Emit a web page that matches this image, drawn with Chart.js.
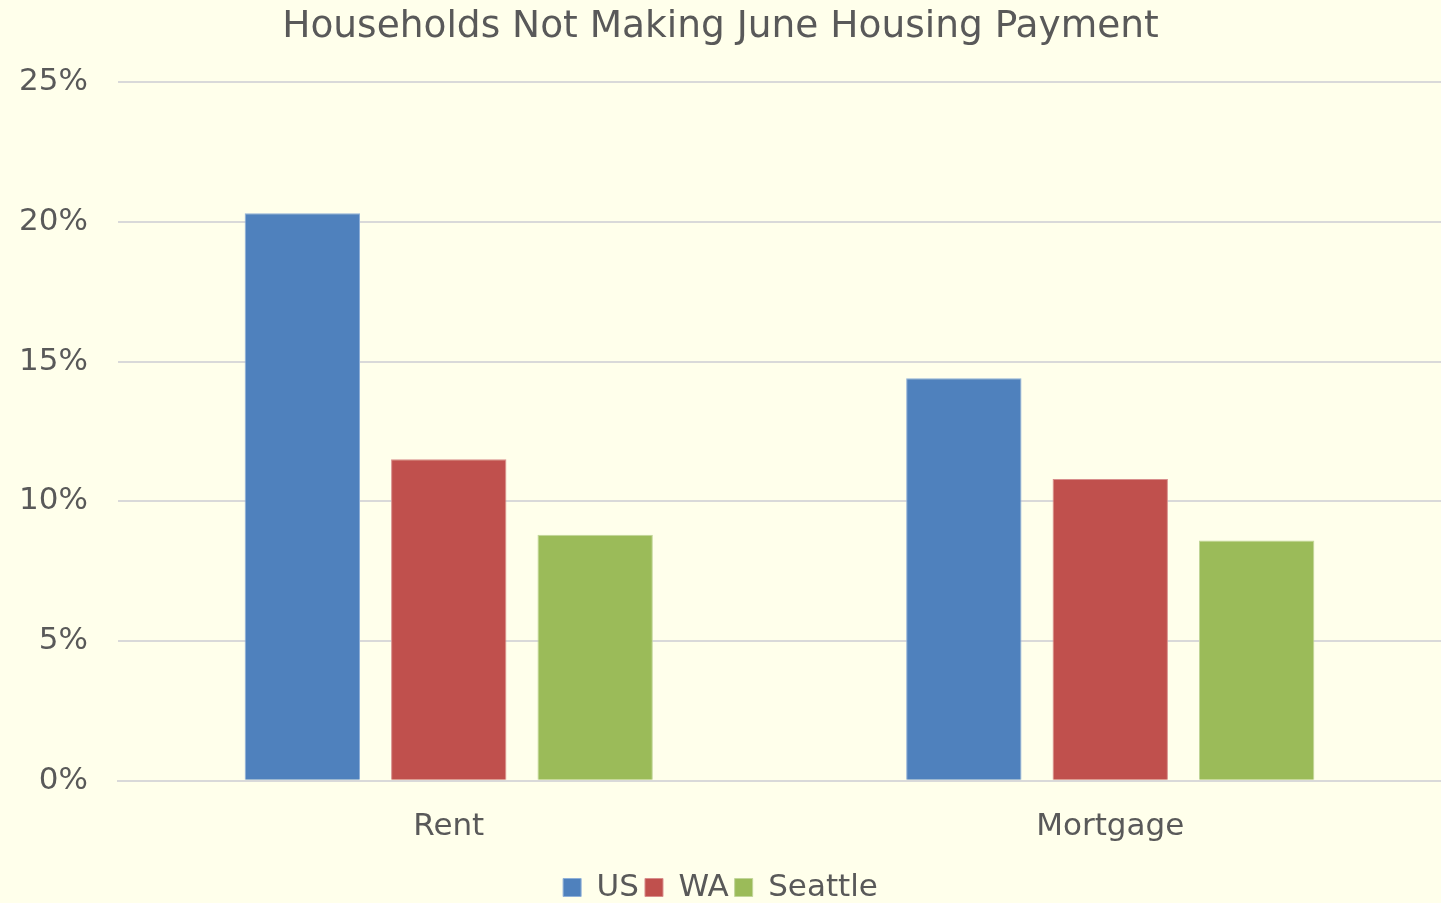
<!DOCTYPE html>
<html>
<head>
<meta charset="utf-8">
<script src="https://cdn.jsdelivr.net/npm/chart.js@4"></script>
<style>
  html, body { margin: 0; padding: 0; background: #FFFFEB; overflow: hidden; }
  #wrap { width: 1441px; height: 913px; }
</style>
</head>
<body>
<div id="wrap"><canvas id="c"></canvas></div>
<script>
// data
const categories = ['Rent', 'Mortgage'];
const usValues = [20.3, 14.4];
const waValues = [11.5, 10.8];
const seattleValues = [8.8, 8.6];
const yTicks = [0, 5, 10, 15, 20, 25];

const textColor = '#595959';
const font = 'Verdana, "DejaVu Sans", sans-serif';

new Chart(document.getElementById('c'), {
  type: 'bar',
  data: {
    labels: categories,
    datasets: [
      { label: 'US', data: usValues, backgroundColor: '#4F81BD', borderColor: '#8FB0D8', borderWidth: 1 },
      { label: 'WA', data: waValues, backgroundColor: '#C0504D', borderColor: '#D88E8C', borderWidth: 1 },
      { label: 'Seattle', data: seattleValues, backgroundColor: '#9BBB59', borderColor: '#C2D69A', borderWidth: 1 }
    ]
  },
  options: {
    responsive: true,
    maintainAspectRatio: false,
    animation: false,
    categoryPercentage: 0.664,
    barPercentage: 0.788,
    layout: { padding: { left: 0, right: 0, top: 0, bottom: 0 } },
    plugins: {
      title: {
        display: true,
        text: 'Households Not Making June Housing Payment',
        color: textColor,
        font: { family: font, size: 37.5, weight: 'normal' },
        padding: { top: 5, bottom: 32 }
      },
      legend: {
        position: 'bottom',
        labels: {
          color: textColor,
          font: { family: font, size: 31 },
          boxWidth: 18,
          boxHeight: 18,
          padding: 6
        }
      },
      tooltip: { enabled: false }
    },
    scales: {
      x: {
        grid: { display: false },
        border: { color: '#D9D9D9', width: 2 },
        ticks: { color: textColor, font: { family: font, size: 31 }, padding: 20 }
      },
      y: {
        min: 0,
        max: 25,
        afterBuildTicks: (axis) => { axis.ticks = yTicks.map(v => ({ value: v })); },
        afterFit: (axis) => { axis.width = 118; },
        grid: { color: '#D9D9D9', lineWidth: 2, drawTicks: false },
        border: { display: false },
        ticks: {
          color: textColor,
          font: { family: font, size: 31 },
          padding: 30,
          callback: v => v + '%'
        }
      }
    }
  }
});
</script>
</body>
</html>
